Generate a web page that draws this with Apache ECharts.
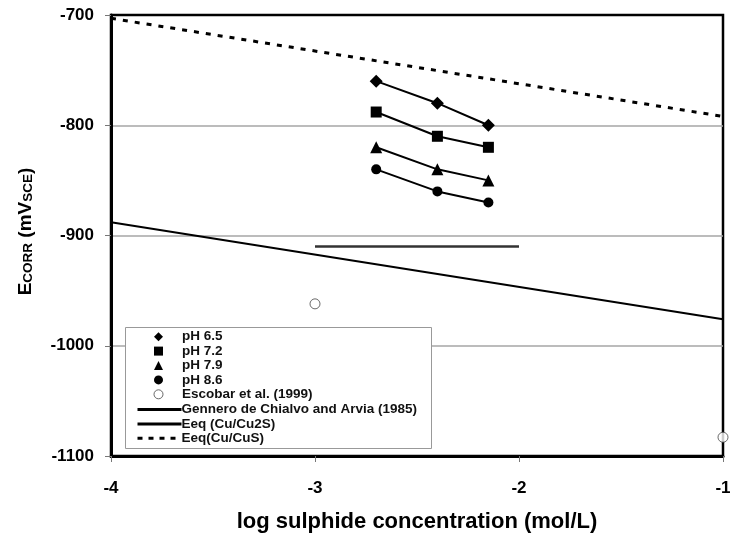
<!DOCTYPE html>
<html>
<head>
<meta charset="utf-8">
<script src="https://cdn.jsdelivr.net/npm/echarts@6/dist/echarts.min.js"></script>
<style>
html,body{margin:0;padding:0;background:#fff;}
#chart{width:732px;height:534px;}
</style>
</head>
<body>
<div id="chart"></div>
<script>
// ---- data ----
const xTicks = [-4, -3, -2, -1];
const yTicks = [-1100, -1000, -900, -800, -700];
const phX = [-2.7, -2.4, -2.15];
const ph65 = [-760, -780, -800];
const ph72 = [-788, -810, -820];
const ph79 = [-820, -840, -850];
const ph86 = [-840, -860, -870];
const escobarX = [-3, -1];
const escobarY = [-962, -1083];
const genneroX = [-3, -2];
const genneroY = [-910, -910];
const eqCu2SX = [-4, -1];
const eqCu2SY = [-888, -976];
const eqCuSX = [-4, -1];
const eqCuSY = [-703, -792];

const names = ['pH 6.5', 'pH 7.2', 'pH 7.9', 'pH 8.6', 'Escobar et al. (1999)',
  'Gennero de Chialvo and Arvia (1985)', 'Eeq (Cu/Cu2S)', 'Eeq(Cu/CuS)'];

const zip = (xs, ys) => xs.map((x, i) => [x, ys[i]]);
const FONT = 'Liberation Sans, Arial, sans-serif';

function phSeries(name, ys, symbol, size) {
  return {
    name, type: 'line', data: zip(phX, ys), symbol, symbolSize: size,
    lineStyle: { color: '#000', width: 2 },
    itemStyle: { color: '#000' }
  };
}

const legendText = { fontFamily: FONT, fontSize: 13.5, fontWeight: 'bold', color: '#111', lineHeight: 14 };
const hideDot = { opacity: 0 };

const chart = echarts.init(document.getElementById('chart'));
chart.setOption({
  animation: false,
  backgroundColor: '#fff',
  grid: { left: 111, right: 9, top: 15, bottom: 78, show: true, borderColor: '#000', borderWidth: 2.5,
          containLabel: false, outerBoundsMode: 'none' },
  xAxis: {
    type: 'value', min: xTicks[0], max: xTicks[xTicks.length - 1], interval: 1,
    name: 'log sulphide concentration (mol/L)', nameLocation: 'middle', nameGap: 55,
    nameTextStyle: { fontFamily: FONT, fontSize: 22, fontWeight: 'bold', color: '#000' },
    axisLine: { onZero: false, lineStyle: { color: '#000', width: 3 } },
    axisTick: { show: true, length: 6, lineStyle: { color: '#777', width: 1 } },
    axisLabel: { fontFamily: FONT, fontSize: 17, fontWeight: 'bold', color: '#000', margin: 24, formatter: v => String(v) },
    splitLine: { show: false }
  },
  yAxis: {
    type: 'value', min: yTicks[0], max: yTicks[yTicks.length - 1], interval: 100,
    name: '{a|E}{b|CORR}{a| (mV}{b|SCE}{a|)}', nameLocation: 'middle', nameGap: 76, nameRotate: 90,
    nameTextStyle: {
      fontFamily: FONT, color: '#000', padding: [0, 0, 0, 8],
      rich: {
        a: { fontFamily: FONT, fontSize: 19, fontWeight: 'bold', color: '#000', verticalAlign: 'bottom', lineHeight: 22 },
        b: { fontFamily: FONT, fontSize: 13.5, fontWeight: 'bold', color: '#000', verticalAlign: 'bottom', lineHeight: 22 }
      }
    },
    axisLine: { onZero: false, lineStyle: { color: '#000', width: 3 } },
    axisTick: { show: true, length: 6, lineStyle: { color: '#777', width: 1 } },
    axisLabel: { fontFamily: FONT, fontSize: 17, fontWeight: 'bold', color: '#000', margin: 17, formatter: v => String(v) },
    splitLine: { show: true, lineStyle: { color: ['#000', '#a6a6a6', '#a6a6a6', '#a6a6a6'], width: 1.5 } }
  },
  graphic: [{
    type: 'rect', z: 3, silent: true,
    shape: { x: 125.5, y: 327.5, width: 306, height: 121 },
    style: { fill: '#fff', stroke: '#999', lineWidth: 1 }
  }],
  legend: [{
    orient: 'vertical', left: 153.5, top: 329.7, padding: 0,
    itemWidth: 9, itemHeight: 9, itemGap: 0.4,
    textStyle: Object.assign({}, legendText, { padding: [0, 0, 0, 14] }),
    data: [
      { name: names[0], icon: 'diamond' },
      { name: names[1], icon: 'rect' },
      { name: names[2], icon: 'triangle' },
      { name: names[3], icon: 'circle' },
      { name: names[4], icon: 'circle', itemStyle: { color: '#fff', borderColor: '#444', borderWidth: 1 } }
    ]
  }, {
    orient: 'vertical', left: 136, top: 402.5, padding: 0,
    itemWidth: 44, itemHeight: 9, itemGap: 0.4,
    textStyle: Object.assign({}, legendText, { padding: [0, 0, 0, -5] }),
    data: [
      { name: names[5], itemStyle: hideDot, lineStyle: { color: '#000', width: 3 } },
      { name: names[6], itemStyle: hideDot, lineStyle: { color: '#000', width: 3 } },
      { name: names[7], itemStyle: hideDot, lineStyle: { color: '#000', width: 3, type: [5, 6] } }
    ]
  }],
  series: [
    phSeries(names[0], ph65, 'diamond', 13),
    phSeries(names[1], ph72, 'rect', 11),
    phSeries(names[2], ph79, 'triangle', 12),
    phSeries(names[3], ph86, 'circle', 10),
    {
      name: names[4], type: 'scatter', data: zip(escobarX, escobarY), symbol: 'circle', symbolSize: 10,
      itemStyle: { color: '#fff', borderColor: '#444', borderWidth: 1 }
    },
    {
      name: names[5], type: 'line', data: zip(genneroX, genneroY), symbol: 'none',
      lineStyle: { color: '#333', width: 2.5 }, itemStyle: { color: '#333' }
    },
    {
      name: names[6], type: 'line', data: zip(eqCu2SX, eqCu2SY), symbol: 'none',
      lineStyle: { color: '#000', width: 2 }, itemStyle: { color: '#000' }
    },
    {
      name: names[7], type: 'line', data: zip(eqCuSX, eqCuSY), symbol: 'none',
      lineStyle: { color: '#000', width: 3, type: [5, 7] }, itemStyle: { color: '#000' }
    }
  ]
});
</script>
</body>
</html>
